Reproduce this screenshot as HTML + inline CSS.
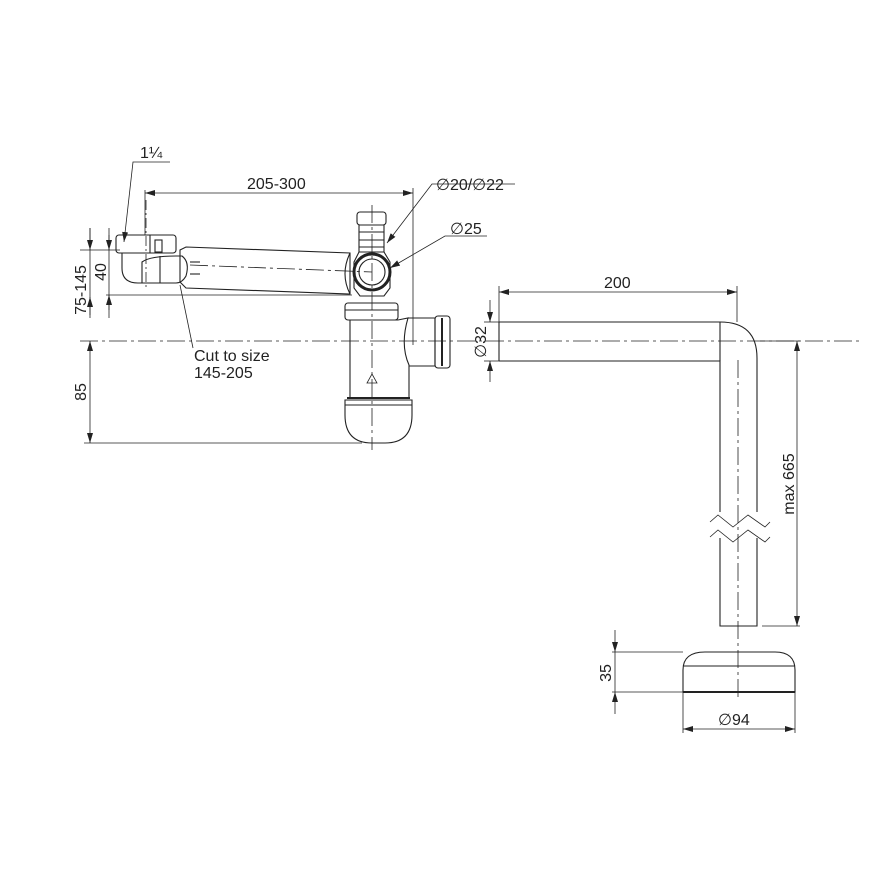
<!DOCTYPE html>
<html><head><meta charset="utf-8"><style>
html,body{margin:0;padding:0;background:#fff}
svg{display:block}
text{font-family:"Liberation Sans",sans-serif;font-size:16px;fill:#222}
</style></head><body>
<svg width="877" height="877" viewBox="0 0 877 877" xmlns="http://www.w3.org/2000/svg">
<defs>
<marker id="a" viewBox="0 0 10 6" refX="10" refY="3" markerWidth="10" markerHeight="6" orient="auto-start-reverse" markerUnits="userSpaceOnUse"><path d="M0,0L10,3L0,6z" fill="#222"/></marker>
</defs>
<g stroke="#222" fill="none" stroke-width="1.1">
<line x1="80" y1="341" x2="860" y2="341" stroke-dasharray="18,4,3,4" stroke-width="0.8"/>
<line x1="146" y1="200" x2="146" y2="290" stroke-dasharray="10,3,2,3" stroke-width="0.8"/>
<line x1="372" y1="205" x2="372" y2="450" stroke-dasharray="18,4,3,4" stroke-width="0.8"/>
<line x1="738" y1="360" x2="738" y2="700" stroke-dasharray="18,4,3,4" stroke-width="0.8"/>
<line x1="190" y1="265" x2="372" y2="272" stroke-dasharray="18,4,3,4" stroke-width="0.8"/>

<line x1="145" y1="190" x2="145" y2="235" stroke-width="0.8"/>
<line x1="413" y1="188" x2="413" y2="345" stroke-width="0.8"/>
<line x1="145" y1="193" x2="413" y2="193" marker-start="url(#a)" marker-end="url(#a)" stroke-width="0.8"/>
<line x1="90" y1="341" x2="90" y2="443" marker-start="url(#a)" marker-end="url(#a)" stroke-width="0.8"/>
<line x1="84" y1="443" x2="362" y2="443" stroke-width="0.8"/>
<line x1="90" y1="228" x2="90" y2="315" stroke-width="0.8"/>
<line x1="90" y1="228" x2="90" y2="250" marker-end="url(#a)" stroke-width="0.8"/>
<line x1="90" y1="318" x2="90" y2="297" marker-end="url(#a)" stroke-width="0.8"/>
<line x1="109" y1="228" x2="109" y2="318" stroke-width="0.8"/>
<line x1="109" y1="235" x2="109" y2="250" marker-end="url(#a)" stroke-width="0.8"/>
<line x1="109" y1="310" x2="109" y2="295" marker-end="url(#a)" stroke-width="0.8"/>
<line x1="80" y1="250" x2="120" y2="250" stroke-width="0.8"/>
<line x1="106" y1="295" x2="352" y2="295" stroke-width="0.8"/>
<polyline points="170,162 133,162 124,242" stroke-width="0.8" marker-end="url(#a)"/>
<polyline points="515,184 432,184 387,243" stroke-width="0.8" marker-end="url(#a)"/>
<polyline points="487,236 445,236 390,268" stroke-width="0.8" marker-end="url(#a)"/>
<line x1="180" y1="285" x2="193" y2="348" stroke-width="0.8"/>

<rect x="116" y="235" width="60" height="18" rx="3"/>
<line x1="150" y1="235" x2="150" y2="253"/><rect x="155" y="240" width="7" height="12"/>
<path d="M122,253 L122,268 Q122,283 138,283 L176,283"/>
<path d="M142,283 L142,262 Q150,256 176,256 L182,256 Q190,262 186,276 Q182,283 176,283"/>
<line x1="160" y1="256" x2="160" y2="283"/>
<path d="M180,250 L186,247 L350,253 L350,294 L186,288 L180,282 Z"/>
<line x1="190" y1="262" x2="200" y2="262"/><line x1="190" y1="274" x2="200" y2="274"/>
<path d="M350,253 Q340,274 350,294"/>
<rect x="357" y="212" width="29" height="13" rx="3"/>
<path d="M359,225 L359,252 L384,252 L384,225"/>
<line x1="359" y1="232" x2="384" y2="232"/><line x1="359" y1="240" x2="384" y2="240"/><line x1="359" y1="247" x2="384" y2="247"/>
<path d="M354,262 L359,252 L384,252 L390,262 L390,288 L384,296 L360,296 L354,288 Z"/>
<circle cx="372" cy="272" r="18" stroke-width="3"/>
<circle cx="372" cy="272" r="13"/>
<rect x="345" y="303" width="53" height="17" rx="3"/>
<line x1="345" y1="310" x2="398" y2="310"/>
<path d="M350,320 L350,398 L409,398 L409,365 Q400,345 408,318 L398,320 Z"/>
<path d="M408,318 L435,318 L435,366 L409,366"/>
<rect x="435" y="316" width="15" height="52" rx="3"/>
<line x1="442" y1="318" x2="442" y2="366" stroke-width="2"/>
<path d="M345,400 L412,400 L412,415 Q412,443 385,443 L372,443 Q345,443 345,415 Z"/>
<line x1="345" y1="405" x2="412" y2="405"/>
<line x1="347" y1="398" x2="410" y2="398" stroke-width="2"/>
<path d="M367,383 L372,374 L377,383 Z" stroke-width="0.8"/>

<path d="M499,322 L720,322 Q757,322 757,358 L757,512"/>
<path d="M499,361 L720,361 L720,512"/>
<line x1="499" y1="322" x2="499" y2="361"/>
<line x1="720" y1="322" x2="720" y2="361"/>
<path d="M757,538 L757,626 L720,626 L720,538"/>
<path d="M710,522 L718,515 L733,527 L748,515 L765,527 L770,522 M710,537 L718,530 L733,542 L748,530 L765,542 L770,537" stroke-width="0.8"/>
<path d="M683,692 L683,670 Q683,652 705,652 L775,652 Q795,652 795,670 L795,692 Z"/>
<line x1="683" y1="692" x2="795" y2="692" stroke-width="2"/>
<line x1="683" y1="666" x2="795" y2="666"/>
<line x1="499" y1="286" x2="499" y2="322" stroke-width="0.8"/>
<line x1="737" y1="286" x2="737" y2="322" stroke-width="0.8"/>
<line x1="499" y1="292" x2="737" y2="292" marker-start="url(#a)" marker-end="url(#a)" stroke-width="0.8"/>
<line x1="484" y1="322" x2="499" y2="322" stroke-width="0.8"/>
<line x1="484" y1="361" x2="499" y2="361" stroke-width="0.8"/>
<line x1="490" y1="300" x2="490" y2="322" marker-end="url(#a)" stroke-width="0.8"/>
<line x1="490" y1="382" x2="490" y2="361" marker-end="url(#a)" stroke-width="0.8"/>
<line x1="760" y1="341" x2="800" y2="341" stroke-width="0.8"/>
<line x1="762" y1="626" x2="800" y2="626" stroke-width="0.8"/>
<line x1="797" y1="341" x2="797" y2="626" marker-start="url(#a)" marker-end="url(#a)" stroke-width="0.8"/>
<line x1="612" y1="652" x2="683" y2="652" stroke-width="0.8"/>
<line x1="612" y1="692" x2="683" y2="692" stroke-width="0.8"/>
<line x1="615" y1="630" x2="615" y2="652" marker-end="url(#a)" stroke-width="0.8"/>
<line x1="615" y1="714" x2="615" y2="692" marker-end="url(#a)" stroke-width="0.8"/>
<line x1="615" y1="652" x2="615" y2="692" stroke-width="0.8"/>
<line x1="683" y1="692" x2="683" y2="733" stroke-width="0.8"/>
<line x1="795" y1="692" x2="795" y2="733" stroke-width="0.8"/>
<line x1="683" y1="729" x2="795" y2="729" marker-start="url(#a)" marker-end="url(#a)" stroke-width="0.8"/>
</g>
<text x="140" y="158">1¼</text>
<text x="247" y="189">205-300</text>
<text x="436" y="190">∅20/∅22</text>
<text x="450" y="234">∅25</text>
<text x="194" y="361">Cut to size</text>
<text x="194" y="378">145-205</text>
<text x="604" y="288">200</text>
<text x="718" y="725">∅94</text>
<text transform="translate(86,392) rotate(-90)" text-anchor="middle">85</text>
<text transform="translate(86,290) rotate(-90)" text-anchor="middle">75-145</text>
<text transform="translate(106,272) rotate(-90)" text-anchor="middle">40</text>
<text transform="translate(486,342) rotate(-90)" text-anchor="middle">∅32</text>
<text transform="translate(794,484) rotate(-90)" text-anchor="middle">max 665</text>
<text transform="translate(611,673) rotate(-90)" text-anchor="middle">35</text>
</svg>
</body></html>
